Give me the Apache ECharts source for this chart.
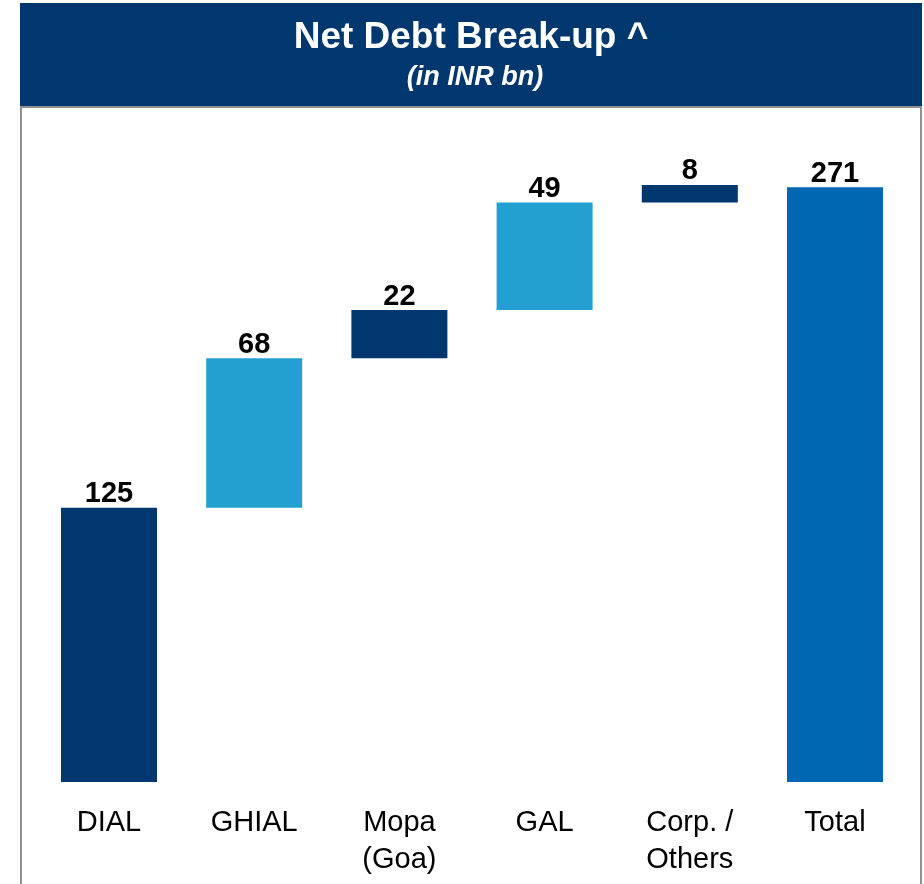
<!DOCTYPE html>
<html>
<head>
<meta charset="utf-8">
<script src="https://cdn.jsdelivr.net/npm/echarts@6/dist/echarts.min.js"></script>
<style>
html,body{margin:0;padding:0;background:#fff;}
#chart{width:924px;height:884px;}
</style>
</head>
<body>
<div id="chart"></div>
<script>
const categories = ['DIAL', 'GHIAL', 'Mopa\n(Goa)', 'GAL', 'Corp. /\nOthers', 'Total'];
const values = [125, 68, 22, 49, 8, 271];
const isTotal = [false, false, false, false, false, true];
const barColors = ['#00376F', '#23A0D1', '#00376F', '#23A0D1', '#00376F', '#0067B3'];

const titleText = 'Net Debt Break-up ^';
const subtitleText = '(in INR bn)';

// waterfall offsets from the running sum
const bases = [];
let run = 0;
values.forEach((v, i) => {
  if (isTotal[i]) { bases.push(0); }
  else { bases.push(run); run += v; }
});

const FONT = 'Liberation Sans, Arial, sans-serif';
const chart = echarts.init(document.getElementById('chart'));
chart.setOption({
  backgroundColor: '#ffffff',
  animation: false,
  graphic: [
    { type: 'rect', shape: { x: 20, y: 3, width: 902, height: 103 }, style: { fill: '#00376F' }, z: 0 },
    { type: 'rect', shape: { x: 21, y: 107, width: 900, height: 800 }, style: { fill: 'none', stroke: '#909090', lineWidth: 2 }, z: 0 },
    { type: 'text', x: 471, y: 38, style: { text: titleText, fill: '#ffffff', font: 'bold 37px ' + FONT, textAlign: 'center', textVerticalAlign: 'middle' }, z: 1 },
    { type: 'text', x: 475, y: 78, style: { text: subtitleText, fill: '#ffffff', font: 'italic bold 27px ' + FONT, textAlign: 'center', textVerticalAlign: 'middle' }, z: 1 }
  ],
  grid: { left: 36.4, right: 16.4, top: 123.5, bottom: 102, containLabel: false },
  xAxis: {
    type: 'category',
    data: categories,
    axisLine: { show: false },
    axisTick: { show: false },
    axisLabel: { color: '#000', fontSize: 29, fontFamily: FONT, lineHeight: 37, margin: 22, interval: 0 }
  },
  yAxis: {
    type: 'value', min: 0, max: 300, show: false,
    splitLine: { show: false }
  },
  series: [
    {
      type: 'bar', stack: 'w', data: bases, barWidth: 96,
      itemStyle: { color: 'transparent' }, silent: true
    },
    {
      type: 'bar', stack: 'w', barWidth: 96,
      data: values.map((v, i) => ({ value: v, itemStyle: { color: barColors[i] } })),
      label: {
        show: true, position: 'top', distance: -1,
        color: '#000', fontSize: 29, fontWeight: 'bold', fontFamily: FONT
      }
    }
  ]
});
</script>
</body>
</html>
